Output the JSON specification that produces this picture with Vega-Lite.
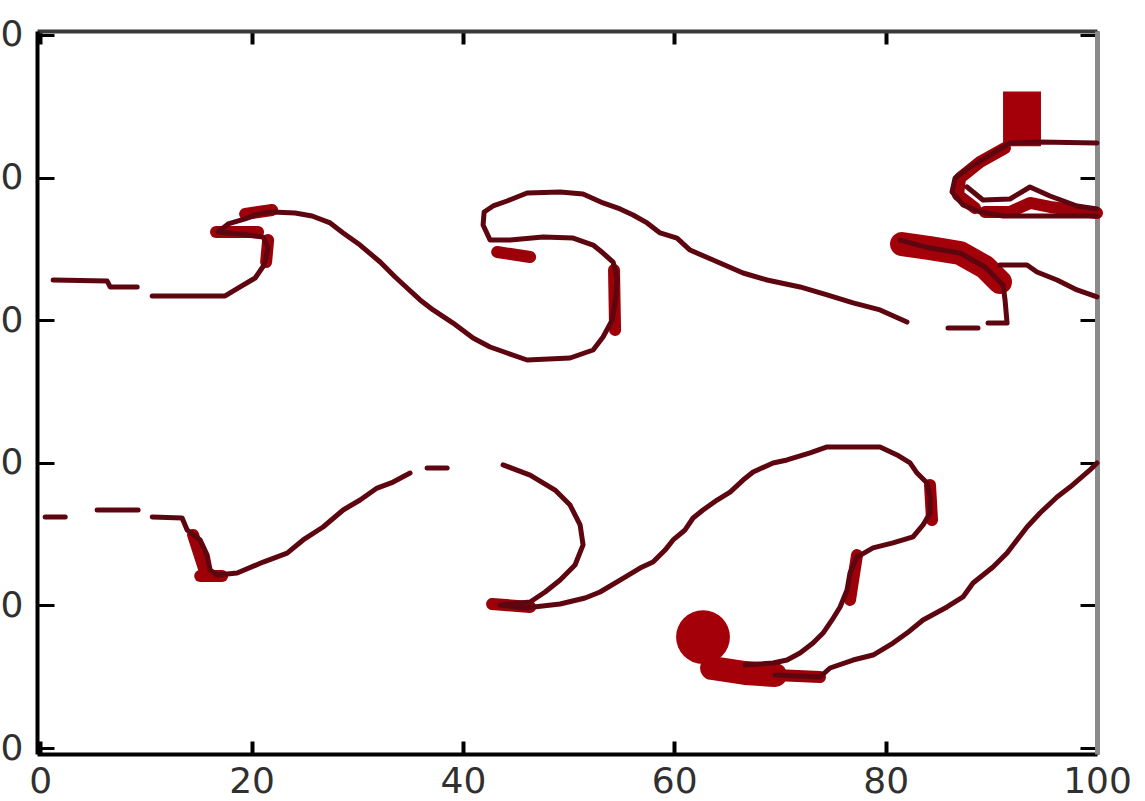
{
  "$schema": "https://vega.github.io/schema/vega-lite/v6.json",
  "width": 1060,
  "height": 723,
  "autosize": {"type": "none"},
  "padding": {"left": 37, "top": 31, "right": 48, "bottom": 47},
  "background": "white",
  "config": {
    "view": {"stroke": null},
    "axis": {
      "labelFont": "DejaVu Sans",
      "labelFontSize": 36,
      "labelColor": "#303030",
      "domainColor": "#000000",
      "domainWidth": 4,
      "tickColor": "#000000",
      "grid": false,
      "title": null,
      "labelFlush": false,
      "labelOverlap": false
    },
    "axisX": {"tickSize": -13, "tickWidth": 4, "labelPadding": 23},
    "axisY": {"tickSize": -17, "tickWidth": 3, "labelPadding": 31}
  },
  "datasets": {
    "lines": [
      {"seg": "U1", "x": 1.23, "y": 32.82}, {"seg": "U1", "x": 6.34, "y": 32.75}, {"seg": "U1", "x": 6.62, "y": 32.33}, {"seg": "U1", "x": 9.18, "y": 32.33},
      {"seg": "U2", "x": 10.6, "y": 31.7}, {"seg": "U2", "x": 17.5, "y": 31.7}, {"seg": "U2", "x": 18.92, "y": 32.33}, {"seg": "U2", "x": 20.34, "y": 32.96},
      {"seg": "U2", "x": 21.19, "y": 33.87}, {"seg": "U2", "x": 21.57, "y": 35.06}, {"seg": "U2", "x": 21.1, "y": 35.83}, {"seg": "U2", "x": 18.92, "y": 36.04},
      {"seg": "U2", "x": 16.84, "y": 36.19}, {"seg": "U2", "x": 17.79, "y": 36.75}, {"seg": "U2", "x": 19.39, "y": 37.1}, {"seg": "U2", "x": 20.62, "y": 37.45},
      {"seg": "U2", "x": 21.95, "y": 37.59}, {"seg": "U2", "x": 24.12, "y": 37.52}, {"seg": "U2", "x": 25.73, "y": 37.31}, {"seg": "U2", "x": 27.44, "y": 36.82},
      {"seg": "U2", "x": 28.67, "y": 36.12}, {"seg": "U2", "x": 30.27, "y": 35.27}, {"seg": "U2", "x": 32.17, "y": 34.08}, {"seg": "U2", "x": 33.59, "y": 33.03},
      {"seg": "U2", "x": 34.72, "y": 32.26}, {"seg": "U2", "x": 35.95, "y": 31.42}, {"seg": "U2", "x": 37.18, "y": 30.72}, {"seg": "U2", "x": 39.07, "y": 29.8},
      {"seg": "U2", "x": 40.96, "y": 28.75}, {"seg": "U2", "x": 42.57, "y": 28.12}, {"seg": "U2", "x": 44.18, "y": 27.7}, {"seg": "U2", "x": 46.07, "y": 27.21},
      {"seg": "U2", "x": 50.14, "y": 27.35}, {"seg": "U2", "x": 52.32, "y": 27.91}, {"seg": "U2", "x": 53.26, "y": 28.82}, {"seg": "U2", "x": 54.12, "y": 30.01},
      {"seg": "U2", "x": 54.49, "y": 31.63}, {"seg": "U2", "x": 54.59, "y": 33.03}, {"seg": "U2", "x": 54.21, "y": 34.08}, {"seg": "U2", "x": 53.26, "y": 34.71},
      {"seg": "U2", "x": 52.32, "y": 35.27}, {"seg": "U2", "x": 50.43, "y": 35.76}, {"seg": "U2", "x": 47.59, "y": 35.83}, {"seg": "U2", "x": 44.47, "y": 35.62},
      {"seg": "U2", "x": 42.57, "y": 35.62}, {"seg": "U2", "x": 41.91, "y": 36.68}, {"seg": "U2", "x": 42.01, "y": 37.59}, {"seg": "U2", "x": 42.86, "y": 38.01},
      {"seg": "U2", "x": 44.18, "y": 38.36}, {"seg": "U2", "x": 46.07, "y": 38.92}, {"seg": "U2", "x": 49.2, "y": 38.99}, {"seg": "U2", "x": 51.37, "y": 38.85},
      {"seg": "U2", "x": 53.26, "y": 38.22}, {"seg": "U2", "x": 54.87, "y": 37.8}, {"seg": "U2", "x": 56.1, "y": 37.38}, {"seg": "U2", "x": 57.43, "y": 36.82},
      {"seg": "U2", "x": 58.66, "y": 36.12}, {"seg": "U2", "x": 60.26, "y": 35.76}, {"seg": "U2", "x": 61.49, "y": 34.92}, {"seg": "U2", "x": 63.67, "y": 34.22},
      {"seg": "U2", "x": 66.51, "y": 33.31}, {"seg": "U2", "x": 68.78, "y": 32.82}, {"seg": "U2", "x": 71.9, "y": 32.33}, {"seg": "U2", "x": 74.46, "y": 31.77},
      {"seg": "U2", "x": 76.92, "y": 31.21}, {"seg": "U2", "x": 79.47, "y": 30.72}, {"seg": "U2", "x": 82.02, "y": 29.87},
      {"seg": "U3", "x": 85.9, "y": 29.45}, {"seg": "U3", "x": 88.74, "y": 29.45},
      {"seg": "U4", "x": 89.69, "y": 29.8}, {"seg": "U4", "x": 91.49, "y": 29.8}, {"seg": "U4", "x": 91.3, "y": 31.42}, {"seg": "U4", "x": 91.11, "y": 32.47},
      {"seg": "U4", "x": 89.4, "y": 33.73}, {"seg": "U4", "x": 87.04, "y": 34.71}, {"seg": "U4", "x": 84.2, "y": 35.06}, {"seg": "U4", "x": 81.36, "y": 35.62},
      {"seg": "U5", "x": 90.82, "y": 33.87}, {"seg": "U5", "x": 93.38, "y": 33.87}, {"seg": "U5", "x": 94.32, "y": 33.38}, {"seg": "U5", "x": 96.22, "y": 32.82},
      {"seg": "U5", "x": 98.11, "y": 32.12}, {"seg": "U5", "x": 100, "y": 31.63},
      {"seg": "U6", "x": 100, "y": 42.43}, {"seg": "U6", "x": 94.61, "y": 42.5}, {"seg": "U6", "x": 91.77, "y": 42.43}, {"seg": "U6", "x": 89.59, "y": 41.44},
      {"seg": "U6", "x": 87.99, "y": 40.74}, {"seg": "U6", "x": 86.57, "y": 39.97}, {"seg": "U6", "x": 86.28, "y": 38.99}, {"seg": "U6", "x": 87.32, "y": 38.08},
      {"seg": "U6", "x": 88.93, "y": 37.59}, {"seg": "U6", "x": 91.11, "y": 37.31}, {"seg": "U6", "x": 97.45, "y": 37.31}, {"seg": "U6", "x": 100, "y": 37.31},
      {"seg": "U7", "x": 87.7, "y": 39.34}, {"seg": "U7", "x": 89.21, "y": 38.43}, {"seg": "U7", "x": 91.77, "y": 38.5}, {"seg": "U7", "x": 93.66, "y": 39.34},
      {"seg": "U7", "x": 95.55, "y": 38.71}, {"seg": "U7", "x": 98.11, "y": 38.01}, {"seg": "U7", "x": 100, "y": 37.8},
      {"seg": "L1", "x": 0.47, "y": 16.2}, {"seg": "L1", "x": 2.37, "y": 16.2},
      {"seg": "L2", "x": 5.39, "y": 16.69}, {"seg": "L2", "x": 9.27, "y": 16.69},
      {"seg": "L3", "x": 10.6, "y": 16.2}, {"seg": "L3", "x": 13.43, "y": 16.13}, {"seg": "L3", "x": 13.91, "y": 15.29}, {"seg": "L3", "x": 15.14, "y": 14.59},
      {"seg": "L3", "x": 15.8, "y": 13.53}, {"seg": "L3", "x": 16.08, "y": 12.48}, {"seg": "L3", "x": 16.75, "y": 12.13}, {"seg": "L3", "x": 18.64, "y": 12.27},
      {"seg": "L3", "x": 21.1, "y": 13.04}, {"seg": "L3", "x": 23.37, "y": 13.67}, {"seg": "L3", "x": 24.88, "y": 14.59}, {"seg": "L3", "x": 26.77, "y": 15.5},
      {"seg": "L3", "x": 28.67, "y": 16.69}, {"seg": "L3", "x": 30.27, "y": 17.39}, {"seg": "L3", "x": 31.88, "y": 18.23}, {"seg": "L3", "x": 33.4, "y": 18.65},
      {"seg": "L3", "x": 35.0, "y": 19.28},
      {"seg": "L4", "x": 36.61, "y": 19.64}, {"seg": "L4", "x": 38.51, "y": 19.64},
      {"seg": "L5", "x": 43.8, "y": 19.85}, {"seg": "L5", "x": 46.36, "y": 19.14}, {"seg": "L5", "x": 48.72, "y": 18.09}, {"seg": "L5", "x": 50.14, "y": 17.04},
      {"seg": "L5", "x": 51.09, "y": 15.64}, {"seg": "L5", "x": 51.37, "y": 14.24}, {"seg": "L5", "x": 50.61, "y": 12.83}, {"seg": "L5", "x": 49.2, "y": 11.78},
      {"seg": "L5", "x": 47.78, "y": 10.94}, {"seg": "L5", "x": 46.36, "y": 10.24}, {"seg": "L5", "x": 43.52, "y": 10.03}, {"seg": "L5", "x": 45.88, "y": 9.82},
      {"seg": "L5", "x": 49.2, "y": 10.1}, {"seg": "L5", "x": 51.56, "y": 10.52}, {"seg": "L5", "x": 52.98, "y": 10.94}, {"seg": "L5", "x": 54.87, "y": 11.78},
      {"seg": "L5", "x": 56.76, "y": 12.62}, {"seg": "L5", "x": 57.99, "y": 13.04}, {"seg": "L5", "x": 59.13, "y": 13.88}, {"seg": "L5", "x": 59.89, "y": 14.59},
      {"seg": "L5", "x": 61.02, "y": 15.29}, {"seg": "L5", "x": 61.78, "y": 16.13}, {"seg": "L5", "x": 62.72, "y": 16.69}, {"seg": "L5", "x": 64.05, "y": 17.39},
      {"seg": "L5", "x": 65.28, "y": 17.95}, {"seg": "L5", "x": 66.51, "y": 18.79}, {"seg": "L5", "x": 67.46, "y": 19.35}, {"seg": "L5", "x": 69.35, "y": 19.99},
      {"seg": "L5", "x": 70.67, "y": 20.2}, {"seg": "L5", "x": 72.85, "y": 20.69}, {"seg": "L5", "x": 74.46, "y": 21.11}, {"seg": "L5", "x": 79.47, "y": 21.11},
      {"seg": "L5", "x": 81.08, "y": 20.55}, {"seg": "L5", "x": 82.31, "y": 19.99}, {"seg": "L5", "x": 82.97, "y": 19.28}, {"seg": "L5", "x": 83.92, "y": 18.58},
      {"seg": "L5", "x": 84.2, "y": 17.6}, {"seg": "L5", "x": 84.2, "y": 16.48}, {"seg": "L5", "x": 83.54, "y": 15.64}, {"seg": "L5", "x": 82.59, "y": 14.8},
      {"seg": "L5", "x": 80.7, "y": 14.38}, {"seg": "L5", "x": 78.81, "y": 14.03}, {"seg": "L5", "x": 77.29, "y": 13.39}, {"seg": "L5", "x": 76.63, "y": 12.27},
      {"seg": "L5", "x": 76.35, "y": 11.08}, {"seg": "L5", "x": 75.69, "y": 9.89}, {"seg": "L5", "x": 74.93, "y": 8.98}, {"seg": "L5", "x": 74.08, "y": 8.06},
      {"seg": "L5", "x": 73.13, "y": 7.36}, {"seg": "L5", "x": 71.9, "y": 6.66}, {"seg": "L5", "x": 70.67, "y": 6.17}, {"seg": "L5", "x": 69.35, "y": 5.96},
      {"seg": "L5", "x": 66.7, "y": 5.82},
      {"seg": "L6", "x": 69.54, "y": 5.12}, {"seg": "L6", "x": 73.79, "y": 4.98}, {"seg": "L6", "x": 74.74, "y": 5.61}, {"seg": "L6", "x": 76.92, "y": 6.17},
      {"seg": "L6", "x": 78.81, "y": 6.52}, {"seg": "L6", "x": 80.7, "y": 7.36}, {"seg": "L6", "x": 82.02, "y": 8.06}, {"seg": "L6", "x": 83.54, "y": 8.98},
      {"seg": "L6", "x": 85.81, "y": 9.89}, {"seg": "L6", "x": 87.32, "y": 10.59}, {"seg": "L6", "x": 88.27, "y": 11.57}, {"seg": "L6", "x": 90.16, "y": 12.69},
      {"seg": "L6", "x": 91.49, "y": 13.67}, {"seg": "L6", "x": 92.43, "y": 14.59}, {"seg": "L6", "x": 93.38, "y": 15.5}, {"seg": "L6", "x": 94.61, "y": 16.48},
      {"seg": "L6", "x": 96.22, "y": 17.6}, {"seg": "L6", "x": 97.45, "y": 18.3}, {"seg": "L6", "x": 99.34, "y": 19.5}, {"seg": "L6", "x": 100, "y": 19.99}
    ],
    "thick": [
      {"seg": "T1", "x": 16.64, "y": 36.19}, {"seg": "T1", "x": 20.62, "y": 36.19},
      {"seg": "T2", "x": 21.57, "y": 35.62}, {"seg": "T2", "x": 21.38, "y": 34.08},
      {"seg": "T3", "x": 19.39, "y": 37.45}, {"seg": "T3", "x": 21.95, "y": 37.73},
      {"seg": "T4", "x": 43.24, "y": 34.78}, {"seg": "T4", "x": 46.36, "y": 34.43},
      {"seg": "T5", "x": 54.3, "y": 33.52}, {"seg": "T5", "x": 54.4, "y": 29.31},
      {"seg": "T6", "x": 14.47, "y": 14.94}, {"seg": "T6", "x": 15.61, "y": 12.34},
      {"seg": "T7", "x": 15.14, "y": 12.06}, {"seg": "T7", "x": 17.22, "y": 12.06},
      {"seg": "T8", "x": 42.76, "y": 10.1}, {"seg": "T8", "x": 46.36, "y": 9.89},
      {"seg": "T9", "x": 84.2, "y": 18.44}, {"seg": "T9", "x": 84.39, "y": 15.99},
      {"seg": "T10", "x": 77.29, "y": 13.53}, {"seg": "T10", "x": 76.63, "y": 10.38},
      {"seg": "T11", "x": 91.3, "y": 42.08}, {"seg": "T11", "x": 88.93, "y": 41.09}, {"seg": "T11", "x": 87.04, "y": 39.97}, {"seg": "T11", "x": 86.85, "y": 38.78}, {"seg": "T11", "x": 88.46, "y": 37.87},
      {"seg": "T12", "x": 89.4, "y": 37.59}, {"seg": "T12", "x": 91.77, "y": 37.59}, {"seg": "T12", "x": 93.66, "y": 38.22}, {"seg": "T12", "x": 95.55, "y": 37.94}, {"seg": "T12", "x": 100, "y": 37.52},
      {"seg": "T14", "x": 69.54, "y": 5.12}, {"seg": "T14", "x": 73.79, "y": 4.98}
    ],
    "big": [
      {"seg": "B1", "x": 81.55, "y": 35.34}, {"seg": "B1", "x": 84.2, "y": 35.06}, {"seg": "B1", "x": 87.04, "y": 34.71}, {"seg": "B1", "x": 89.4, "y": 33.73}, {"seg": "B1", "x": 90.82, "y": 32.68},
      {"seg": "B2", "x": 63.58, "y": 5.61}, {"seg": "B2", "x": 66.7, "y": 5.26}, {"seg": "B2", "x": 69.54, "y": 5.12}
    ],
    "heads": [
      {"x": 62.72, "y": 7.78}
    ],
    "patches": [
      {"x1": 91.11, "x2": 94.7, "y1": 42.19, "y2": 46.03}
    ]
  },
  "layer": [
    {
      "data": {"name": "patches"},
      "mark": {"type": "rect", "color": "#a3000a"},
      "encoding": {
        "x": {"field": "x1", "type": "quantitative", "scale": {"domain": [-0.3, 100], "nice": false, "zero": false}, "axis": null},
        "x2": {"field": "x2"},
        "y": {"field": "y1", "type": "quantitative", "scale": {"domain": [-0.42, 50.28], "nice": false, "zero": false}, "axis": null},
        "y2": {"field": "y2"}
      }
    },
    {
      "data": {"name": "heads"},
      "mark": {"type": "point", "filled": true, "shape": "circle", "size": 2900, "color": "#a3000a", "opacity": 1},
      "encoding": {
        "x": {"field": "x", "type": "quantitative", "axis": null},
        "y": {"field": "y", "type": "quantitative", "axis": null}
      }
    },
    {
      "data": {"name": "big"},
      "mark": {"type": "line", "strokeWidth": 24, "strokeCap": "round", "strokeJoin": "round", "color": "#a3000a"},
      "encoding": {
        "x": {"field": "x", "type": "quantitative", "axis": null},
        "y": {"field": "y", "type": "quantitative", "axis": null},
        "detail": {"field": "seg"},
        "order": {"value": null}
      }
    },
    {
      "data": {"name": "thick"},
      "mark": {"type": "line", "strokeWidth": 12, "strokeCap": "round", "strokeJoin": "round", "color": "#9c0008"},
      "encoding": {
        "x": {"field": "x", "type": "quantitative", "axis": {"orient": "top", "labels": false, "values": [0, 20, 40, 60, 80, 100], "domainColor": "#3a3a3a"}},
        "y": {"field": "y", "type": "quantitative", "axis": {"orient": "right", "labels": false, "values": [0, 10, 20, 30, 40, 50], "domainColor": "#8a8a8a", "domainWidth": 5}},
        "detail": {"field": "seg"},
        "order": {"value": null}
      }
    },
    {
      "data": {"name": "lines"},
      "mark": {"type": "line", "strokeWidth": 5, "strokeCap": "round", "strokeJoin": "round", "color": "#5e0610"},
      "encoding": {
        "x": {"field": "x", "type": "quantitative", "axis": {"orient": "bottom", "values": [0, 20, 40, 60, 80, 100]}},
        "y": {"field": "y", "type": "quantitative", "axis": {"orient": "left", "values": [0, 10, 20, 30, 40, 50]}},
        "detail": {"field": "seg"},
        "order": {"value": null}
      }
    }
  ],
  "resolve": {"axis": {"x": "independent", "y": "independent"}}
}
